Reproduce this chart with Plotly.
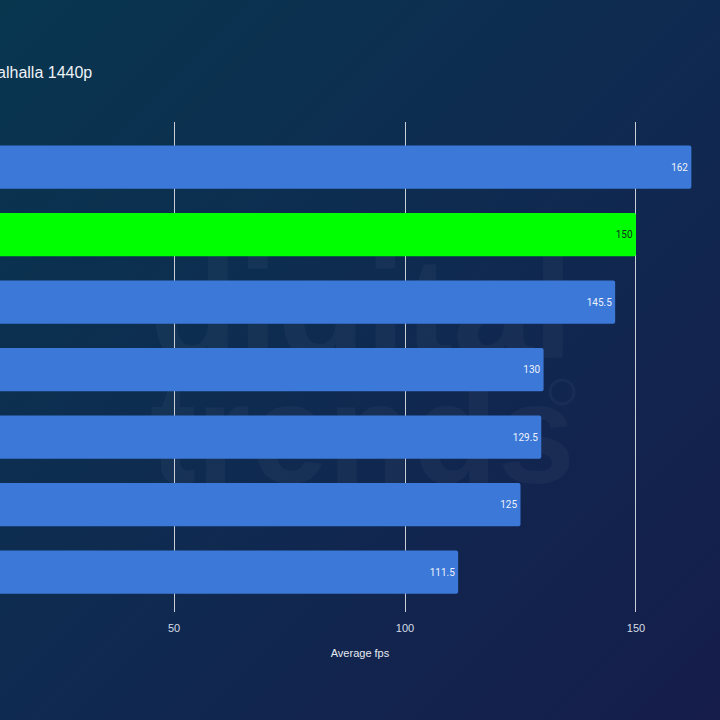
import base64
import plotly.graph_objects as go

# ---- data ----
categories = ["GPU 1", "GPU 2", "GPU 3", "GPU 4", "GPU 5", "GPU 6", "GPU 7"]
fps_values = [162, 150, 145.5, 130, 129.5, 125, 111.5]
bar_colors = ["#3b78d8", "#00ff00", "#3b78d8", "#3b78d8", "#3b78d8", "#3b78d8", "#3b78d8"]
label_colors = ["#eef2fa", "#10301a", "#eef2fa", "#eef2fa", "#eef2fa", "#eef2fa", "#eef2fa"]
x_ticks = [50, 100, 150]
title_text = "Assassin's Creed Valhalla 1440p"
x_title = "Average fps"

svg = """<svg xmlns='http://www.w3.org/2000/svg' width='720' height='720' viewBox='0 0 720 720' preserveAspectRatio='none'>
<defs><linearGradient id='g' x1='0' y1='0' x2='1' y2='1'>
<stop offset='0' stop-color='#08364f'/>
<stop offset='0.5' stop-color='#0f2a50'/>
<stop offset='1' stop-color='#161d4b'/>
</linearGradient></defs>
<rect width='720' height='720' fill='url(#g)'/>
<g font-family='Arial, Liberation Sans, sans-serif' font-weight='bold' font-size='142' fill='#ffffff' fill-opacity='0.035'>
<text x='150' y='358' textLength='423' lengthAdjust='spacingAndGlyphs'>digital</text>
<text x='150' y='483' textLength='425' lengthAdjust='spacingAndGlyphs'>trends</text>
</g>
<circle cx='562' cy='392' r='12' fill='none' stroke='#ffffff' stroke-opacity='0.035' stroke-width='3'/>
</svg>"""
bg_uri = "data:image/svg+xml;base64," + base64.b64encode(svg.encode()).decode()

fig = go.Figure()
fig.add_trace(go.Bar(
    y=categories,
    x=fps_values,
    orientation="h",
    marker=dict(color=bar_colors, line=dict(width=0)),
    text=[f"{v:g}" for v in fps_values],
    textposition="inside",
    insidetextanchor="end",
    textangle=0,
    textfont=dict(family="Roboto, Arial", size=10, color=label_colors),
    width=0.64,
    hoverinfo="skip",
))

fig.update_layout(
    width=720, height=720,
    margin=dict(l=0, r=0, t=122, b=108),
    paper_bgcolor="#0f2a4d",
    plot_bgcolor="rgba(0,0,0,0)",
    showlegend=False,
    barcornerradius=2,
    images=[dict(source=bg_uri, xref="paper", yref="paper", x=0, y=1 + 122 / 490,
                 sizex=1, sizey=720 / 490, xanchor="left", yanchor="top",
                 sizing="stretch", layer="below")],
    xaxis=dict(
        range=[12.3, 168.2],
        tickvals=x_ticks,
        showgrid=True, gridcolor="#c9ced6", gridwidth=1,
        zeroline=False, showline=False,
        ticks="", ticklabelstandoff=8,
        tickfont=dict(family="Liberation Sans Narrow, Arial Narrow, Arial", size=11, color="#d6dde6"),
        title=dict(text=x_title, standoff=16,
                   font=dict(family="Liberation Sans Narrow, Arial Narrow, Arial", size=11, color="#e6ebf2")),
        fixedrange=True,
    ),
    yaxis=dict(
        autorange=False,
        range=[6.59, -0.667],
        showticklabels=False, showgrid=False, zeroline=False, ticks="",
    ),
    annotations=[
        dict(text=title_text, xref="paper", yref="paper", x=94 / 720, y=1 + (122 - 72) / 490,
             xanchor="right", yanchor="middle", showarrow=False,
             font=dict(family="Arial, Liberation Sans", size=16, color="#eef2f7")),
    ],
)

fig.write_html("out.html")
